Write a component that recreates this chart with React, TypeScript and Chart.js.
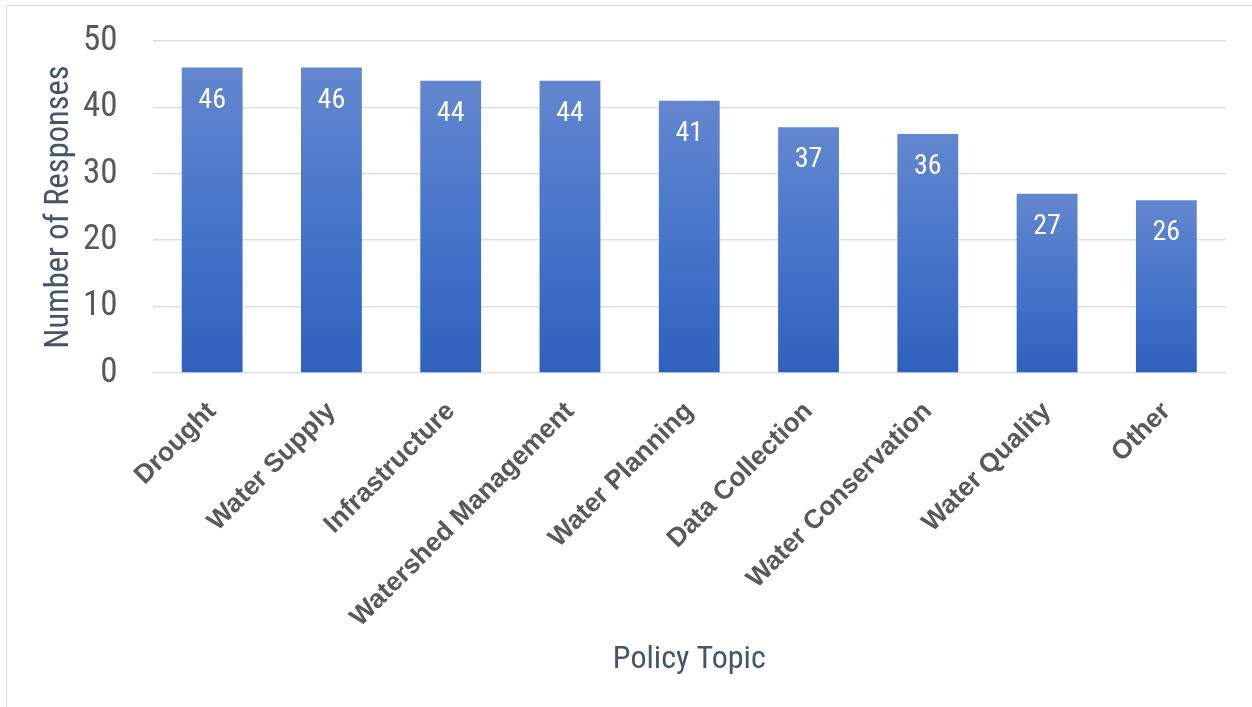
import React, { useEffect, useRef } from 'react';
import { Chart, registerables } from 'chart.js';

Chart.register(...registerables);

const categories = [
  'Drought',
  'Water Supply',
  'Infrastructure',
  'Watershed Management',
  'Water Planning',
  'Data Collection',
  'Water Conservation',
  'Water Quality',
  'Other',
];
const responses = [46, 46, 44, 44, 41, 37, 36, 27, 26];
const yMin = 0;
const yMax = 50;
const yStep = 10;
const xTitle = 'Policy Topic';
const yTitle = 'Number of Responses';

const NARROW = "'Liberation Sans Narrow', 'Arial Narrow', 'Roboto Condensed', 'DejaVu Sans Condensed', sans-serif";
const ARIAL = "'Liberation Sans', Arial, sans-serif";

const dataLabels = {
  id: 'dataLabels',
  afterDatasetsDraw(chart: any) {
    const ctx = chart.ctx;
    const meta = chart.getDatasetMeta(0);
    ctx.save();
    ctx.fillStyle = '#ffffff';
    ctx.font = `28px ${NARROW}`;
    ctx.textAlign = 'center';
    ctx.textBaseline = 'middle';
    meta.data.forEach((bar: any, i: number) => {
      const v = chart.data.datasets[0].data[i];
      ctx.fillText(String(v), bar.x, bar.y + 33);
    });
    ctx.restore();
  },
};

export default function App() {
  const ref = useRef<HTMLCanvasElement | null>(null);
  useEffect(() => {
    document.body.style.margin = '0';
    const canvas = ref.current;
    if (!canvas) return;
    const chart = new Chart(canvas, {
      type: 'bar',
      data: {
        labels: categories,
        datasets: [
          {
            data: responses,
            backgroundColor: (c: any) => {
              const ch = c.chart;
              if (!ch.chartArea || !ch.scales || !ch.scales.y) return '#4472C4';
              const y = ch.scales.y;
              const top = y.getPixelForValue(c.raw ?? 0);
              const bottom = y.getPixelForValue(0);
              if (!isFinite(top) || !isFinite(bottom) || top === bottom) return '#4472C4';
              const g = ch.ctx.createLinearGradient(0, top, 0, bottom);
              g.addColorStop(0, '#6387CF');
              g.addColorStop(0.5, '#4675CA');
              g.addColorStop(1, '#2E61BD');
              return g;
            },
            borderWidth: 0,
            barPercentage: 0.51,
            categoryPercentage: 1,
          },
        ],
      },
      options: {
        animation: false,
        responsive: false,
        devicePixelRatio: 1,
        layout: { padding: { left: 30, top: 41, right: 26, bottom: 0 } },
        plugins: {
          legend: { display: false },
          tooltip: { enabled: false },
        },
        scales: {
          x: {
            grid: { display: false, drawTicks: false },
            border: { display: false },
            ticks: {
              autoSkip: false,
              maxRotation: 45,
              minRotation: 45,
              padding: 23,
              color: '#595959',
              font: { family: ARIAL, size: 26.5, weight: 'bold' },
            },
            title: {
              display: true,
              text: xTitle,
              color: '#44546A',
              font: { family: NARROW, size: 32 },
              padding: { top: 0, bottom: 28 },
            },
            afterFit: (s: any) => {
              s.height = 707 - 373;
            },
          },
          y: {
            min: yMin,
            max: yMax,
            ticks: {
              stepSize: yStep,
              padding: 3,
              color: '#595959',
              font: { family: NARROW, size: 35 },
            },
            grid: {
              color: '#dde1e7',
              lineWidth: 1.5,
              drawTicks: true,
              tickLength: 32,
              tickColor: 'rgba(0,0,0,0)',
            },
            border: { display: false },
            title: {
              display: true,
              text: yTitle,
              color: '#44546A',
              font: { family: NARROW, size: 32.5 },
              padding: { top: 10, bottom: 0 },
            },
            afterFit: (s: any) => {
              s.width = 152.5 - 30;
            },
          },
        },
      },
      plugins: [dataLabels],
    } as any);
    return () => chart.destroy();
  }, []);

  return (
    <div
      style={{
        position: 'fixed',
        left: 0,
        top: 0,
        width: 1252,
        height: 707,
        overflow: 'hidden',
        background: '#ffffff',
      }}
    >
      <canvas ref={ref} width={1252} height={707} style={{ position: 'absolute', left: 0, top: 0 }} />
      <div
        style={{
          position: 'absolute',
          left: 6,
          top: 5,
          width: 1400,
          height: 900,
          border: '1.5px solid #d9dce1',
          pointerEvents: 'none',
        }}
      />
    </div>
  );
}
